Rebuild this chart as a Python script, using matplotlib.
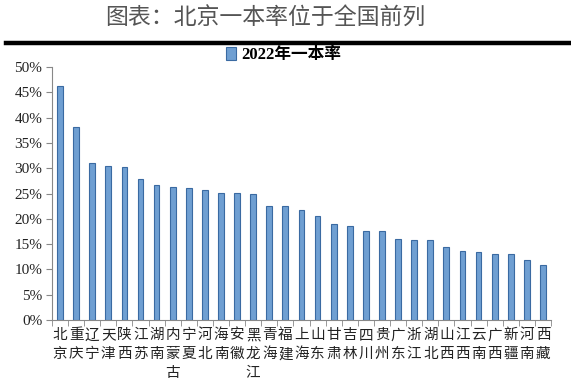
import matplotlib
matplotlib.use("Agg")
import matplotlib.pyplot as plt
import numpy as np
from matplotlib.ticker import FixedLocator, PercentFormatter

provinces = ["北京", "重庆", "辽宁", "天津", "陕西", "江苏", "湖南", "内蒙古", "宁夏", "河北",
             "海南", "安徽", "黑龙江", "青海", "福建", "上海", "山东", "甘肃", "吉林", "四川",
             "贵州", "广东", "浙江", "湖北", "山西", "江西", "云南", "广西", "新疆", "河南", "西藏"]
rates = [46.2, 38.1, 31.1, 30.5, 30.3, 27.9, 26.7, 26.3, 26.1, 25.7,
         25.1, 25.1, 24.9, 22.6, 22.6, 21.8, 20.6, 19.0, 18.6, 17.6,
         17.6, 16.0, 15.8, 15.8, 14.4, 13.7, 13.5, 13.1, 13.1, 11.9, 10.9]
series_name = "2022年一本率"
title = "图表：北京一本率位于全国前列"
yticks = [0, 5, 10, 15, 20, 25, 30, 35, 40, 45, 50]

cjk = ["Noto Sans CJK SC", "DejaVu Sans"]
serif_cjk = ["Liberation Serif", "Noto Sans CJK SC"]

fig = plt.figure(figsize=(5.71, 3.86), dpi=100)
fig.patch.set_facecolor("white")

fig.text(0.465, 0.953, title, ha="center", va="center", fontsize=16.5,
         family=cjk, color="#555555", fontweight="light")
fig.add_artist(plt.Line2D([0.011, 0.999], [0.888, 0.888], color="black", lw=3.2,
                          transform=fig.transFigure))

ax = fig.add_axes([0.091, 0.171, 0.874, 0.655])
x = np.arange(len(provinces))
bars = ax.bar(x, rates, width=0.36, color="#6f9fd2", edgecolor="#3a6aa2",
              linewidth=0.8, label=series_name)

ax.set_xlim(-0.5, len(provinces) - 0.5)
ax.set_ylim(0, 50)
ax.yaxis.set_major_locator(FixedLocator(yticks))
ax.yaxis.set_major_formatter(PercentFormatter(decimals=0))
for lab in ax.get_yticklabels():
    lab.set_family("Liberation Serif")
    lab.set_fontsize(11)
    lab.set_color("#222222")

ax.set_xticks(x)
ax.set_xticklabels(["\n".join(p) for p in provinces], family=cjk, fontsize=10.5,
                   color="#222222", linespacing=1.45, va="top", fontweight="light")
ax.tick_params(axis="x", length=0, pad=6)
ax.set_xticks(np.arange(-0.5, len(provinces), 1), minor=True)
ax.tick_params(axis="x", which="minor", length=4, color="#888888", direction="out")
ax.tick_params(axis="y", length=4, color="#888888", direction="out", pad=3)

for s in ["top", "right"]:
    ax.spines[s].set_visible(False)
for s in ["left", "bottom"]:
    ax.spines[s].set_color("#888888")
    ax.spines[s].set_linewidth(0.8)

leg = ax.legend(loc="center", bbox_to_anchor=(0.496, 0.857),
                bbox_transform=fig.transFigure, frameon=False,
                handlelength=0.6, handleheight=0.8, handletextpad=0.3,
                prop={"family": serif_cjk, "weight": "bold", "size": 12})

fig.savefig("out.png", dpi=100)
